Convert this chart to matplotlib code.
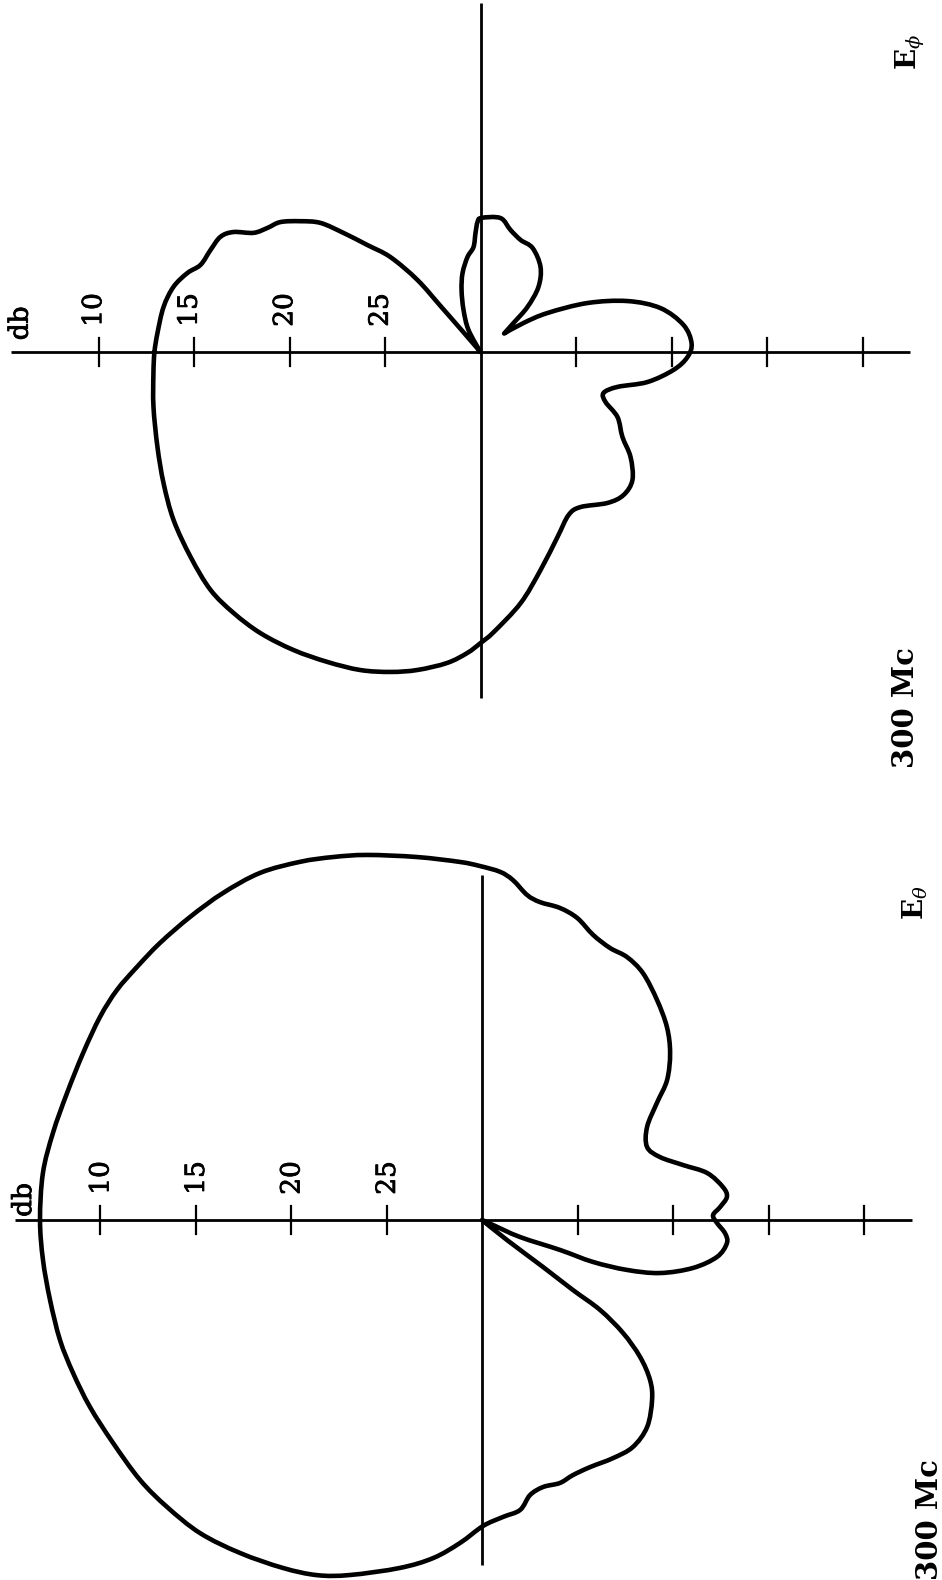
import numpy as np
import matplotlib.pyplot as plt
import matplotlib.patheffects as pe
from matplotlib.path import Path
from matplotlib.patches import PathPatch

# E-phi pattern at 300 Mc: bearing from the db axis (deg) and level read on the db scale
ephi_deg = [0, 3.4, 8.1, 12, 15.1, 17.3, 20.7, 23.9, 25.9, 27.7, 30.2, 33, 36, 38.9, 41,
            43.4, 46.5, 48.8, 49.0, 49.2, 55, 61.4, 68, 73, 77.2, 82.2, 86.2, 87.6, 88.7,
            90.4, 98.5, 103.8, 109.7, 116.6, 125.2, 131.7, 136.2, 138.7, 142, 146, 149.8,
            155.4, 160.9, 166.3, 172.4, 177.6, 181.4, 185.3, 190.2, 194.3, 198.4, 201.8,
            205.4, 210.9, 215, 220.1, 225, 229.9, 237.2, 241.6, 247.4, 254.6, 260.9, 267.3,
            270, 272.5, 276.1, 281.2, 285.7, 290.7, 296.3, 302.1, 308, 313.4, 318.6, 324.7,
            331.3, 337.5, 343.6, 350.5, 356.3, 360]
ephi_db = [12.93, 13.06, 13.24, 13.57, 14.11, 14.65, 14.89, 15.11, 15.62, 16.58, 17.09,
           17.51, 18.35, 19.24, 20.50, 21.85, 23.15, 24.99, 26.85, 28.44, 30.0, 28.69,
           27.63, 26.61, 25.76, 24.98, 24.49, 23.76, 23.19, 22.98, 22.91, 23.42, 23.77,
           23.91, 24.55, 25.44, 26.59, 27.70, 28.43, 27.28, 25.94, 23.84, 21.85, 20.30,
           19.28, 18.94, 19.16, 19.85, 21.12, 22.60, 23.21, 22.95, 22.06, 21.34, 20.41,
           19.60, 19.41, 19.67, 20.34, 20.30, 19.51, 18.16, 16.69, 15.32, 14.76, 14.23,
           13.63, 13.03, 12.60, 12.20, 11.90, 11.58, 11.31, 11.19, 11.16, 11.41, 11.68,
           12.04, 12.37, 12.64, 12.84, 12.93]
ephi_sharp = [55, 142]      # bearings where the trace has a sharp null

# E-theta pattern at 300 Mc
etheta_deg = [0, 6.1, 11.5, 17.0, 22.7, 28.0, 32.2, 36.3, 40.7, 46.1, 51.6, 57.4, 63.1,
              67.7, 72.5, 79.8, 86.5, 89.7, 93.0, 95.2, 97.9, 100.3, 104.0, 107.5, 111.3,
              115.2, 118.9, 123.1, 128.5, 133.8, 138.4, 142.9, 146.2, 150.6, 156.1, 160.5,
              164.7, 168.2, 172.2, 174.6, 176.9, 178.8, 180.7, 183.1, 185.4, 188.9, 192.8,
              196.6, 199.0, 200.7, 201.0, 204.1, 204.4, 210, 218.7, 217.6, 217.6, 217.3,
              218.7, 220.9, 223.6, 226.6, 231.4, 236.4, 241.2, 246.4, 250.4, 253.5, 257.1,
              260.1, 262.5, 266.0, 269.8, 273.9, 278.2, 283.3, 290.4, 294.9, 299.8, 306,
              312, 317.7, 322.8, 328.9, 334.5, 339.5, 344.1, 349.5, 354.8, 360]
etheta_db = [6.86, 6.88, 7.08, 7.28, 7.36, 7.35, 7.41, 7.60, 7.76, 7.97, 8.16, 8.43, 8.97,
             9.46, 9.96, 10.69, 11.22, 11.47, 11.75, 12.13, 12.82, 13.08, 13.16, 13.42,
             13.98, 14.26, 14.28, 14.57, 15.28, 16.01, 16.83, 17.85, 18.98, 20.08, 20.55,
             20.12, 19.09, 17.96, 17.27, 17.12, 17.52, 17.90, 17.70, 17.26, 17.12, 17.54,
             18.67, 20.28, 21.97, 23.79, 25.62, 27.82, 29.37, 30.0, 28.32, 25.97, 23.99,
             22.23, 20.54, 19.05, 17.85, 17.04, 16.14, 15.73, 15.77, 15.88, 15.82, 15.64,
             15.66, 15.38, 14.69, 14.41, 13.98, 13.05, 12.12, 11.28, 10.17, 9.50, 9.01,
             8.45, 7.94, 7.69, 7.51, 7.43, 7.26, 7.14, 7.03, 7.00, 6.92, 6.86]
etheta_sharp = [210]

db_ticks = [10, 15, 20, 25]
db_floor = 30          # level at the centre of each chart
px_per_db = 19.1

W, H = 942, 1580
fig = plt.figure(figsize=(W / 100, H / 100), dpi=100)
fig.patch.set_facecolor('white')

serif = 'DejaVu Serif'
plt.rcParams['mathtext.fontset'] = 'dejavuserif'
# printed labels are a little heavier than the book weight
heavy = [pe.withStroke(linewidth=0.6, foreground='black')]


def pattern_axes(y0, y1, cx, cy):
    """Axes spanning figure rows y0..y1 (px) with its origin at pixel (cx, cy), units of db."""
    ax = fig.add_axes([0, 1 - y1 / H, 1, (y1 - y0) / H])
    ax.set_xlim(-cx / px_per_db, (W - cx) / px_per_db)
    ax.set_ylim((cy - y1) / px_per_db, (cy - y0) / px_per_db)
    ax.axis('off')
    return ax


def smooth_trace(x, y, sharp):
    """Closed Catmull-Rom style bezier through every point; sharp points keep a corner."""
    pts = np.column_stack([x, y])
    tang = np.zeros_like(pts)
    tang[1:-1] = (pts[2:] - pts[:-2]) / 6.0
    tang[0] = tang[-1] = (pts[1] - pts[-2]) / 6.0
    tang[sharp] = 0.0
    verts, codes = [pts[0]], [Path.MOVETO]
    for i in range(len(pts) - 1):
        verts += [pts[i] + tang[i], pts[i + 1] - tang[i + 1], pts[i + 1]]
        codes += [Path.CURVE4] * 3
    return Path(verts, codes)


def draw_pattern(ax, deg, db, sharp_deg, arm, label_shift, db_pos):
    left, right, up, down = arm
    ax.plot([-left, right], [0, 0], color='black', lw=2.0, solid_capstyle='butt')
    ax.plot([0, 0], [-down, up], color='black', lw=2.0, solid_capstyle='butt')
    for t in db_ticks:
        r = db_floor - t
        for side in (-1, 1):
            ax.plot([side * r, side * r], [-0.72, 0.72], color='black', lw=1.6)
        ax.text(-r + label_shift, 2.2, str(t), rotation=90, ha='center', va='center',
                fontsize=19, family=serif, path_effects=heavy)
    ax.text(db_pos[0], db_pos[1], 'db', rotation=90, ha='center', va='center',
            fontsize=19, family=serif, path_effects=heavy)

    a = np.radians(deg)
    r = db_floor - np.asarray(db)
    sharp = [deg.index(s) for s in sharp_deg]
    trace = smooth_trace(-r * np.cos(a), r * np.sin(a), sharp)
    ax.add_patch(PathPatch(trace, facecolor='none', edgecolor='black', lw=3.3,
                           joinstyle='round', capstyle='round'))


# upper chart: E-phi
ax1 = pattern_axes(0, 790, 480.5, 352)
draw_pattern(ax1, ephi_deg, ephi_db, ephi_sharp, (24.58, 22.49, 18.27, 18.12), -0.25,
             (-24.1, 1.5))

# lower chart: E-theta
ax2 = pattern_axes(790, 1580, 482, 1220)
draw_pattern(ax2, etheta_deg, etheta_db, etheta_sharp, (24.45, 22.51, 18.06, 18.06), 0.05,
             (-24.0, 1.05))

# captions down the right edge
fig.text(905 / W, 1 - 708 / H, '300 Mc', rotation=90, ha='center', va='center',
         fontsize=21, family=serif, fontweight='bold')
fig.text(929 / W, 1 - 1520 / H, '300 Mc', rotation=90, ha='center', va='center',
         fontsize=21, family=serif, fontweight='bold')
fig.text(910 / W, 1 - 52 / H, r'$\mathbf{E}_{\phi}$', rotation=90, ha='center', va='center',
         fontsize=20)
fig.text(915 / W, 1 - 903 / H, r'$\mathbf{E}_{\theta}$', rotation=90, ha='center', va='center',
         fontsize=20)

fig.savefig('out.png', dpi=100, facecolor='white')
